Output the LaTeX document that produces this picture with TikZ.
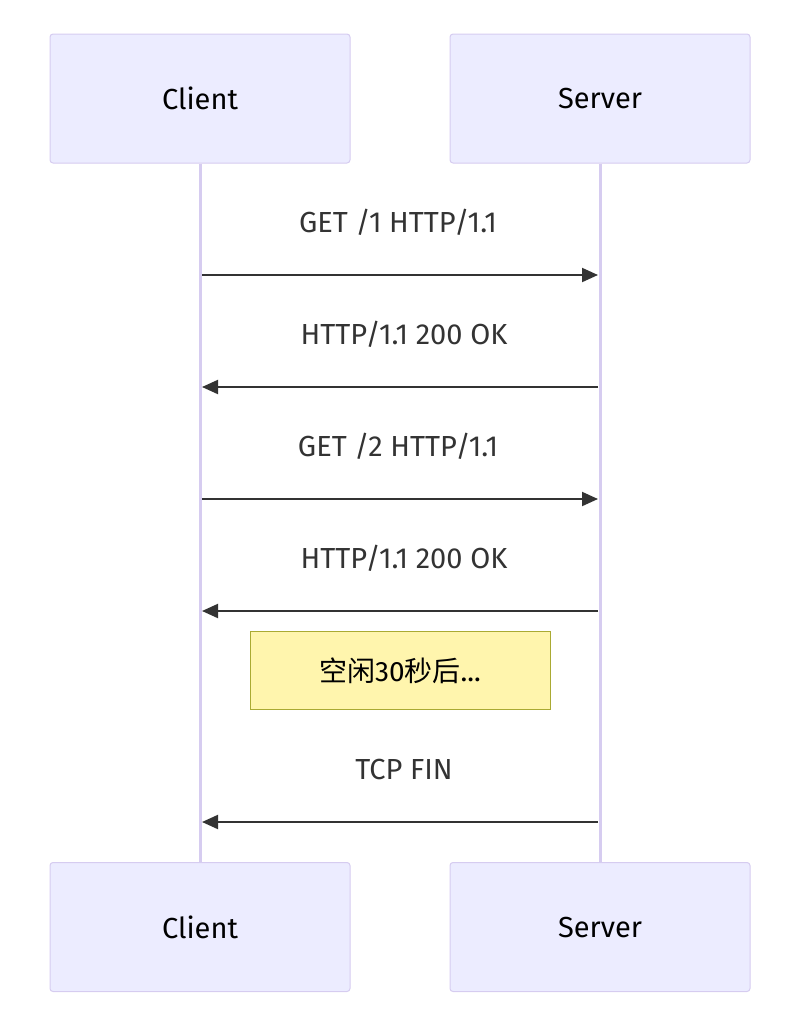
\documentclass[tikz,border=0pt]{standalone}
\usepackage{fontspec}
\setmainfont{Fira Sans}
\newfontfamily\cjk{Noto Sans CJK SC}
\usetikzlibrary{arrows.meta}
\definecolor{actfill}{HTML}{ECECFF}
\definecolor{actline}{HTML}{D6CCF0}
\definecolor{notefill}{HTML}{FFF5AD}
\definecolor{noteline}{HTML}{AAAA33}
\definecolor{txt}{HTML}{333333}
\tikzset{
 actor/.style={draw=actline,fill=actfill,rounded corners=3pt,minimum width=300pt,minimum height=129pt,font=\fontsize{29}{33}\selectfont,text=black,line width=1pt},
 life/.style={draw=actline,line width=3pt},
 msg/.style={draw=txt,line width=2pt,-{Triangle[length=16pt,width=14pt]}},
 lbl/.style={font=\fontsize{29}{33}\selectfont,text=txt},
}
\begin{document}
\begin{tikzpicture}[x=1pt,y=-1pt]
\useasboundingbox (0,0) rectangle (794,1026);
\node[actor] (c1) at (200,98.5) {Client};
\node[actor] (s1) at (600,98.5) {Server};
\node[actor] (c2) at (200,927) {Client};
\node[actor] (s2) at (600,927) {Server};
\draw[life] (c1.south) -- (c2.north);
\draw[life] (s1.south) -- (s2.north);
\foreach \y [count=\i] in {275,387,499,611,822}{
  \coordinate (a\i) at (202,\y);
  \coordinate (b\i) at (598,\y);
}
\node[lbl] (t1) at (398,222) {GET /1 HTTP/1.1};
\node[lbl] (t2) at (404,334) {HTTP/1.1 200 OK};
\node[lbl] (t3) at (398,446) {GET /2 HTTP/1.1};
\node[lbl] (t4) at (404,558) {HTTP/1.1 200 OK};
\node[lbl] (t5) at (404,769) {TCP FIN};
\draw[msg] (a1) -- (b1);
\draw[msg] (b2) -- (a2);
\draw[msg] (a3) -- (b3);
\draw[msg] (b4) -- (a4);
\draw[msg] (b5) -- (a5);
\node[draw=noteline,fill=notefill,minimum width=300pt,minimum height=78pt,font=\fontsize{28}{32}\selectfont,line width=1pt] (note) at (400,670.5) {{\cjk 空闲}30{\cjk 秒后}...};
\end{tikzpicture}
\end{document}
